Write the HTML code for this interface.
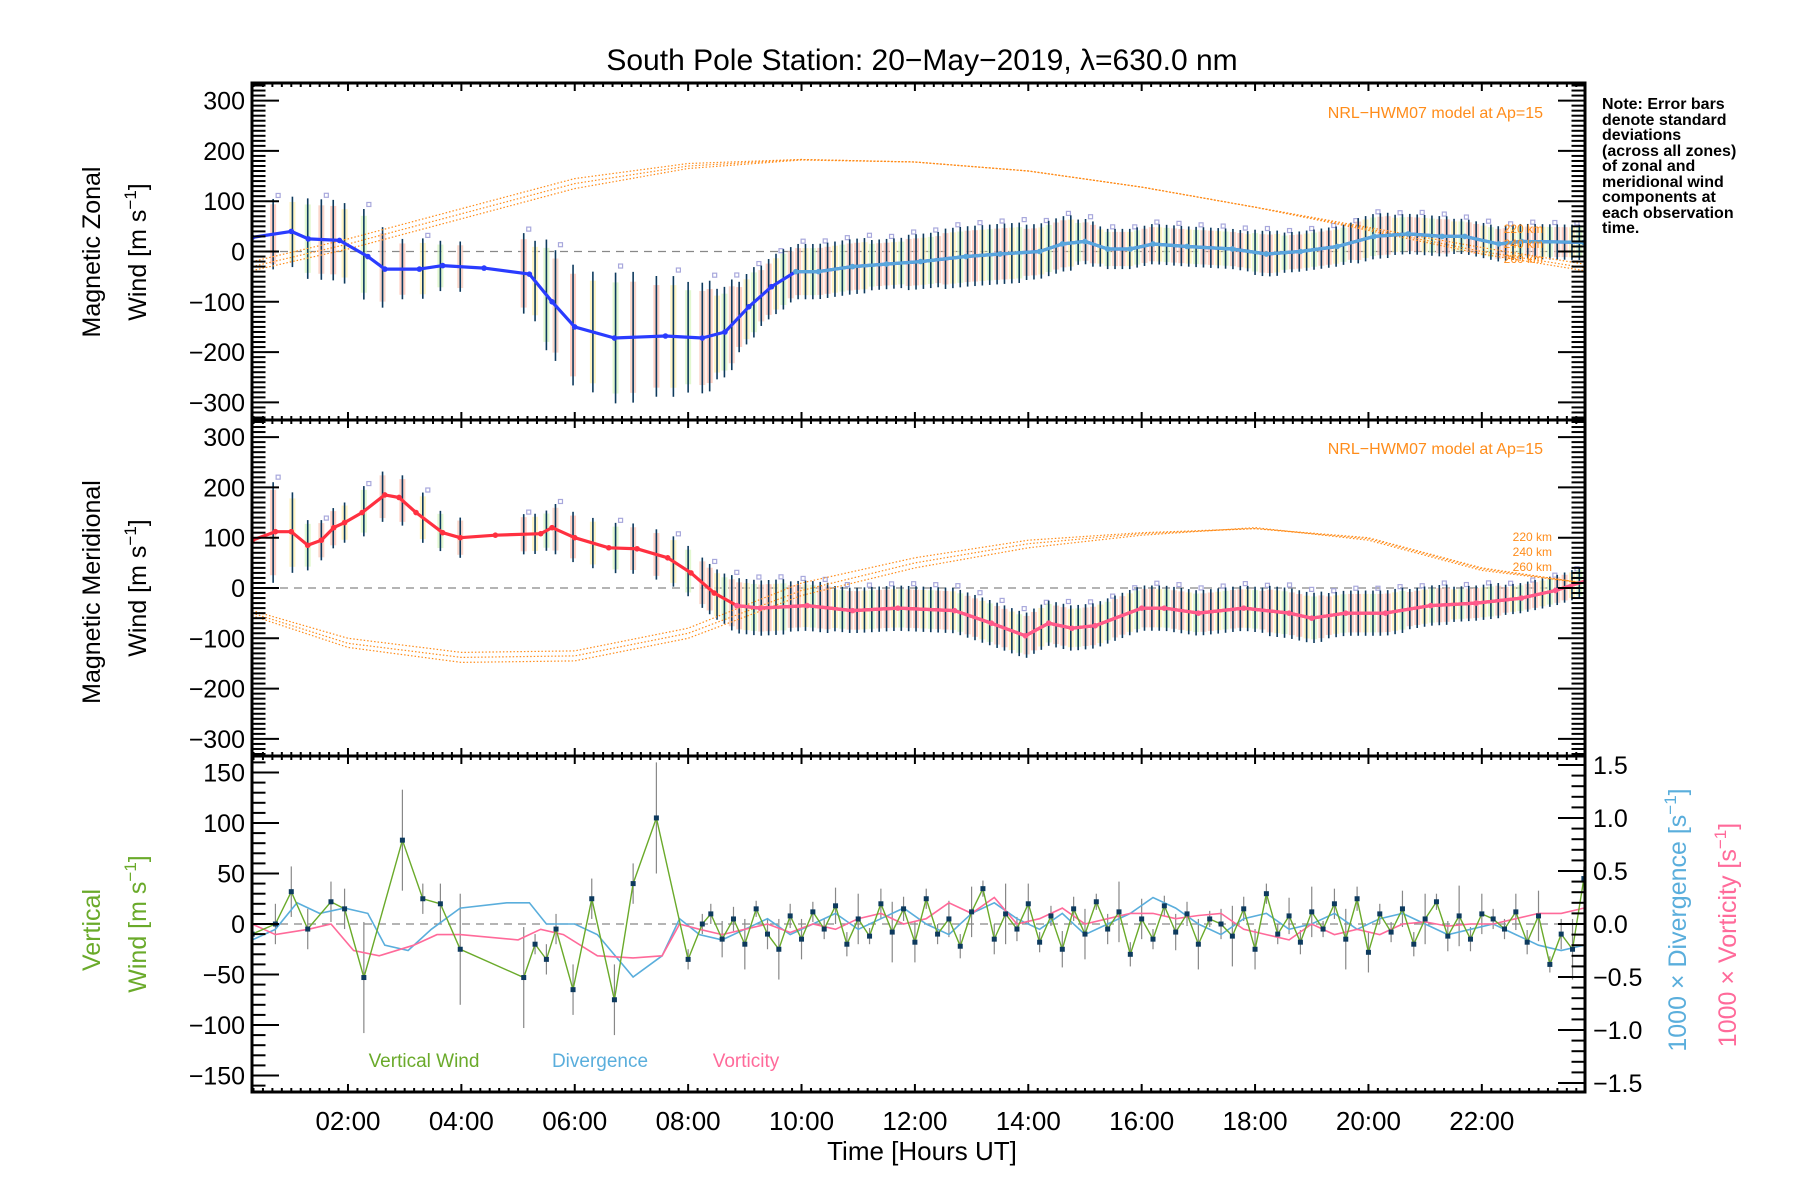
<!DOCTYPE html>
<html><head><meta charset="utf-8"><style>
html,body{margin:0;padding:0;background:#fff;}
svg{display:block;font-family:"Liberation Sans",sans-serif;}
</style></head><body>
<svg id="chart" width="1800" height="1200" viewBox="0 0 1800 1200" xmlns="http://www.w3.org/2000/svg">
<rect x="0" y="0" width="1800" height="1200" fill="#fff"/>
<text x="922" y="70" font-size="30" text-anchor="middle">South Pole Station: 20−May−2019, λ=630.0 nm</text>
<g id="layer"></g>
<text font-size="16" fill="#000" font-weight="bold">
<tspan x="1602" y="109">Note: Error bars</tspan><tspan x="1602" y="125">denote standard</tspan><tspan x="1602" y="140">deviations</tspan><tspan x="1602" y="156">(across all zones)</tspan><tspan x="1602" y="171">of zonal and</tspan><tspan x="1602" y="187">meridional wind</tspan><tspan x="1602" y="202">components at</tspan><tspan x="1602" y="218">each observation</tspan><tspan x="1602" y="233">time.</tspan></text>
<text x="1543" y="118" font-size="16" fill="#ff8c1a" text-anchor="end">NRL−HWM07 model at Ap=15</text>
<text x="1543" y="454" font-size="16" fill="#ff8c1a" text-anchor="end">NRL−HWM07 model at Ap=15</text>
<text font-size="12" fill="#ff8c1a" text-anchor="end"><tspan x="1552" y="541">220 km</tspan><tspan x="1552" y="556">240 km</tspan><tspan x="1552" y="571">260 km</tspan></text>
<text font-size="12" fill="#ff8c1a" text-anchor="end"><tspan x="1543" y="233">220 km</tspan><tspan x="1543" y="248">240 km</tspan><tspan x="1543" y="263">260 km</tspan></text>
<text font-size="25" text-anchor="middle" transform="translate(100,252) rotate(-90)">Magnetic  Zonal</text>
<text font-size="25" text-anchor="middle" transform="translate(146,252) rotate(-90)">Wind  [m  s<tspan dy="-10" font-size="17">−1</tspan><tspan dy="10">]</tspan></text>
<text font-size="25" text-anchor="middle" transform="translate(100,592) rotate(-90)">Magnetic  Meridional</text>
<text font-size="25" text-anchor="middle" transform="translate(146,588) rotate(-90)">Wind  [m  s<tspan dy="-10" font-size="17">−1</tspan><tspan dy="10">]</tspan></text>
<text font-size="25" fill="#6aaa2a" text-anchor="middle" transform="translate(100,930) rotate(-90)">Vertical</text>
<text font-size="25" fill="#6aaa2a" text-anchor="middle" transform="translate(146,924) rotate(-90)">Wind  [m  s<tspan dy="-10" font-size="17">−1</tspan><tspan dy="10">]</tspan></text>
<text font-size="25" fill="#5aaedc" text-anchor="middle" transform="translate(1686,920) rotate(-90)">1000 × Divergence [s<tspan dy="-10" font-size="17">−1</tspan><tspan dy="10">]</tspan></text>
<text font-size="25" fill="#ff6a9a" text-anchor="middle" transform="translate(1736,935) rotate(-90)">1000 × Vorticity [s<tspan dy="-10" font-size="17">−1</tspan><tspan dy="10">]</tspan></text>
<text x="424" y="1067" font-size="19" fill="#6aaa2a" text-anchor="middle">Vertical Wind</text>
<text x="600" y="1067" font-size="19" fill="#5aaedc" text-anchor="middle">Divergence</text>
<text x="746" y="1067" font-size="19" fill="#ff6a9a" text-anchor="middle">Vorticity</text>
<text x="922" y="1160" font-size="26" text-anchor="middle">Time [Hours UT]</text>
</svg>
<script>
// ---- data ----
const zonalTimes=[0.31,1.0,1.3,1.85,2.35,2.65,3.26,3.67,4.4,5.2,5.6,6.0,6.7,7.6,8.25,8.65,9.07,9.47,9.9,10.3,10.9,11.5,12.1,12.9,13.5,14.2,14.6,15.0,15.4,15.8,16.2,16.8,17.6,18.2,18.8,19.45,20.1,20.7,21.3,21.7,22.3,22.7,23.8];
const zonalWind=[28,40,25,22,-10,-35,-35,-28,-33,-45,-100,-150,-172,-168,-172,-160,-110,-70,-40,-40,-30,-25,-20,-10,-5,0,15,20,5,5,15,10,5,-5,0,10,30,35,30,30,15,20,18];
const zonalStd=[60,70,80,80,90,80,60,50,60,80,110,120,130,120,110,90,70,60,55,55,55,50,55,60,60,55,55,45,40,40,40,40,40,45,40,40,45,40,40,35,35,35,35];
const merTimes=[0.31,0.72,1.0,1.29,1.53,1.75,1.94,2.25,2.65,2.9,3.2,3.67,3.98,4.6,5.4,5.6,6.0,6.6,7.1,7.64,8.05,8.46,8.86,9.27,10.1,10.9,11.7,12.7,13.35,13.95,14.36,14.77,15.18,16.0,16.4,17.0,17.8,18.6,19.0,19.6,20.3,21.1,21.9,22.7,23.3,23.85];
const merWind=[95,112,112,85,95,120,130,150,185,180,150,110,100,105,108,120,100,80,78,60,30,-10,-35,-40,-35,-45,-40,-45,-70,-95,-70,-80,-75,-40,-40,-50,-40,-50,-60,-50,-50,-35,-30,-20,-5,15];
const merStd=[90,100,80,50,40,40,40,50,50,50,50,40,40,40,40,50,50,50,50,50,50,50,55,55,50,45,45,45,45,45,45,45,45,45,45,45,45,50,50,45,45,40,35,30,30,30];
const obsSparseTimes=[0.68,1.02,1.29,1.53,1.74,1.94,2.28,2.61,2.96,3.32,3.63,3.98,5.1,5.3,5.5,5.66,5.97,6.32,6.72,7.03,7.44,7.74,8.0,8.25];
const modelTimes=[0.31,2,4,6,8,10,12,14,16,18,20,22,23.8];
const hwmZonal220=[-20,25,85,145,175,183,178,160,128,88,48,8,-25];
const hwmZonal240=[-30,15,75,135,170,183,178,160,128,88,45,0,-32];
const hwmZonal260=[-38,5,65,125,165,182,178,160,128,88,42,-5,-38];
const hwmMer220=[-45,-100,-128,-125,-80,10,60,95,110,118,100,40,10];
const hwmMer240=[-50,-110,-138,-135,-90,-5,50,88,108,118,98,38,10];
const hwmMer260=[-55,-118,-148,-145,-100,-15,40,80,105,120,95,35,10];
const vertSparseTimes=[0.31,0.72,1.0,1.29,1.7,1.94,2.28,2.96,3.32,3.63,3.98,5.1,5.3,5.5,5.67,5.97,6.3,6.7,7.03,7.44,8.0,8.25];
const vertSparse=[-10,0,32,-5,22,15,-53,83,25,20,-25,-53,-20,-35,-5,-65,25,-75,40,105,-35,0];
const vertSparseStd=[15,20,25,20,20,20,55,50,15,20,55,50,10,15,15,25,20,35,20,55,10,10];
const vertDense=[10,-15,5,-20,15,-10,-25,8,-15,12,-5,18,-20,5,-12,20,-8,15,-18,25,-10,5,-22,12,35,-15,10,-5,20,-18,8,-25,15,-10,22,-5,12,-30,5,-15,18,-8,10,-20,5,0,-12,15,-25,30,-10,8,-18,12,-5,20,-15,25,-28,10,-8,15,-20,5,22,-12,8,-15,10,5,-5,12,-18,8,-40,-10,-25,45];
const vertDenseStd=[10,18,12,25,8,15,30,12,20,10];
const divSparseTimes=[0.31,0.72,1.1,1.5,1.94,2.35,2.65,3.06,3.47,3.98,4.8,5.2,5.5,6.0,6.4,7.03,7.54,7.85];
const divSparse=[-0.15,-0.05,0.2,0.1,0.15,0.1,-0.2,-0.25,-0.05,0.15,0.2,0.2,0.0,0.0,-0.1,-0.5,-0.3,0.05];
const divDense=[-0.1,-0.15,-0.05,0.05,-0.1,0.0,0.1,-0.05,0.05,0.15,0.0,-0.1,0.1,0.2,0.05,-0.05,0.1,-0.1,0.0,0.1,0.25,0.15,0.0,-0.1,0.05,0.1,-0.05,0.0,0.1,-0.05,0.05,0.1,0.0,-0.1,-0.05,0.0,-0.1,-0.2,-0.25,-0.2];
const vortSparseTimes=[0.31,0.72,1.3,1.7,2.1,2.55,3.16,3.57,3.98,5.0,5.4,5.8,6.4,7.03,7.54,7.85];
const vortSparse=[0.0,-0.1,-0.05,0.0,-0.25,-0.3,-0.2,-0.1,-0.1,-0.15,-0.05,-0.1,-0.3,-0.32,-0.3,0.0];
const vortDense=[-0.05,-0.1,-0.05,0.0,-0.08,0.0,-0.05,0.05,0.1,0.0,0.05,0.2,0.1,0.25,0.0,0.05,0.15,0.0,0.05,0.1,0.1,0.05,0.08,0.1,-0.05,-0.1,-0.15,0.0,-0.1,-0.05,-0.1,0.0,0.02,-0.02,0.0,0.0,0.05,0.1,0.1,0.15];
const xTickLabels=["02:00","04:00","06:00","08:00","10:00","12:00","14:00","16:00","18:00","20:00","22:00"];
const windTicks=[-300,-200,-100,0,100,200,300];
const vertTicks=[-150,-100,-50,0,50,100,150];
const rightTicks=[-1.5,-1.0,-0.5,0.0,0.5,1.0,1.5];

// ---- axes ----
const L=252,R=1585,T0=0.307,T1=23.82;
const P=[{top:83,bot:420},{top:420,bot:756},{top:756,bot:1092}];
const xs=t=>L+(t-T0)*(R-L)/(T1-T0);
const y1=v=>251.5-v*0.503;
const y2=v=>588-v*0.503;
const y3=v=>924-v*1.01;
const y3r=v=>924-v*106;
const NS="http://www.w3.org/2000/svg";
const layer=document.getElementById('layer');
function mk(tag,attrs,parent){const e=document.createElementNS(NS,tag);for(const k in attrs)e.setAttribute(k,attrs[k]);(parent||layer).appendChild(e);return e;}
function interp(ts,vs,t){if(t<=ts[0])return vs[0];for(let i=1;i<ts.length;i++){if(t<=ts[i]){const f=(t-ts[i-1])/(ts[i]-ts[i-1]);return vs[i-1]+f*(vs[i]-vs[i-1]);}}return vs[vs.length-1];}
function nearest(ts,vs,t){let b=0;for(let i=0;i<ts.length;i++)if(Math.abs(ts[i]-t)<Math.abs(ts[b]-t))b=i;return vs[b];}
function pts(ts,vs,yf){return ts.map((t,i)=>xs(t).toFixed(1)+','+yf(vs[i]).toFixed(1)).join(' ');}

const clipDefs=mk('defs',{});
P.forEach((p,i)=>{const c=mk('clipPath',{id:'clip'+i},clipDefs);mk('rect',{x:L,y:p.top,width:R-L,height:p.bot-p.top},c);});

const obsTimes=obsSparseTimes.slice();
for(let t=8.38;t<23.85;t+=0.13)obsTimes.push(t);

function windPanel(idx,yf,lt,lv,ls,m1,m2,m3,c1,c2,split,name){
  const g=mk('g',{'clip-path':'url(#clip'+idx+')'});
  
  
  mk('line',{x1:L,x2:R,y1:yf(0),y2:yf(0),stroke:'#888','stroke-width':1.3,'stroke-dasharray':'8,6'},g);
  const shades=['#ffc0b0','#fff0b0','#d8f5c0','#f8c8b8'];
  obsTimes.forEach((t,i)=>{
    const m=interp(lt,lv,t),s=nearest(lt,ls,t);
    const r=mk('rect',{x:xs(t)-3,y:yf(m+s*0.85),width:6,height:Math.abs(yf(m-s*0.85)-yf(m+s*0.85)),fill:shades[i%4],opacity:0.75},g);
    
    
    const b=mk('line',{x1:xs(t),x2:xs(t),y1:yf(m+s),y2:yf(m-s),stroke:'#0d3a5e','stroke-width':1.6},g);
    
    
    if(i%3===0){const q=mk('rect',{x:xs(t)+3,y:yf(m+s*1.1)-2,width:4,height:4,fill:'none',stroke:'#a8a8dc','stroke-width':1.2},g);
      
      }
  });
  [m1,m2,m3].forEach((m,k)=>{
    const pl=mk('polyline',{points:pts(modelTimes,m,yf),fill:'none',stroke:'#ff8c1a','stroke-width':1.2,'stroke-dasharray':'1.5,2'},g);
    
    
  });
  const ln=mk('polyline',{points:pts(lt,lv,yf),fill:'none',stroke:c1,'stroke-width':3.2,'stroke-linejoin':'round'},g);
  
  
  const st=[],sv=[];lt.forEach((t,i)=>{if(t>=split){st.push(t);sv.push(lv[i]);}});
  const ln2=mk('polyline',{points:pts(st,sv,yf),fill:'none',stroke:c2,'stroke-width':3.2,'stroke-linejoin':'round'},g);
  
  
  lt.forEach((t,i)=>{const d=mk('circle',{cx:xs(t),cy:yf(lv[i]),r:2.8,fill:t>=split?c2:c1},g);
    
    });
}
windPanel(0,y1,zonalTimes,zonalWind,zonalStd,hwmZonal220,hwmZonal240,hwmZonal260,'#2a3cff','#5aa6dc',9.8,'zonal');
windPanel(1,y2,merTimes,merWind,merStd,hwmMer220,hwmMer240,hwmMer260,'#ff3040','#ff5a8a',8.6,'meridional');

(function(){
  const g=mk('g',{'clip-path':'url(#clip2)'});
  
  
  mk('line',{x1:L,x2:R,y1:y3(0),y2:y3(0),stroke:'#888','stroke-width':1.3,'stroke-dasharray':'8,6'},g);
  const vt=vertSparseTimes.slice(),vv=vertSparse.slice(),vs=vertSparseStd.slice();
  vertDense.forEach((v,i)=>{vt.push(8.4+i*0.2);vv.push(v);vs.push(vertDenseStd[i%vertDenseStd.length]);});
  vt.forEach((t,i)=>{const e=mk('line',{x1:xs(t),x2:xs(t),y1:y3(vv[i]+vs[i]),y2:y3(vv[i]-vs[i]),stroke:'#888','stroke-width':1.2},g);
    
    });
  const dt=divSparseTimes.slice(),dv=divSparse.slice();
  divDense.forEach((v,i)=>{dt.push(8.2+i*0.4);dv.push(v);});
  const rt=vortSparseTimes.slice(),rv=vortSparse.slice();
  vortDense.forEach((v,i)=>{rt.push(8.2+i*0.4);rv.push(v);});
  const dl=mk('polyline',{points:pts(dt,dv,y3r),fill:'none',stroke:'#5aaedc','stroke-width':1.6},g);
  
  
  const rl=mk('polyline',{points:pts(rt,rv,y3r),fill:'none',stroke:'#ff6a9a','stroke-width':1.6},g);
  
  
  const vl=mk('polyline',{points:pts(vt,vv,y3),fill:'none',stroke:'#6aaa2a','stroke-width':1.4},g);
  
  
  vt.forEach((t,i)=>{const d=mk('rect',{x:xs(t)-2.5,y:y3(vv[i])-2.5,width:5,height:5,fill:'#0d3a5e'},g);
    
    });
})();

const ax=mk('g',{stroke:'#000','stroke-width':2});


P.forEach(p=>{
  for(let m=Math.ceil(T0*6);m<=T1*6;m++){const t=m/6,x=xs(t),maj=(m%12===0);const h=maj?8:4;
    mk('line',{x1:x,x2:x,y1:p.bot,y2:p.bot-h},ax);mk('line',{x1:x,x2:x,y1:p.top,y2:p.top+h},ax);}
});
function yTicks(p,yf,lo,hi,minor,major,side,len){
  const x0=side==='l'?L:R,dir=side==='l'?1:-1;
  for(let v=Math.ceil(lo/minor)*minor;v<=hi+1e-9;v+=minor){const y=yf(v);if(y<p.top+1||y>p.bot-1)continue;
    const isM=Math.abs(v/major-Math.round(v/major))<1e-6;const l=isM?len:len/2;
    mk('line',{x1:x0,x2:x0+dir*l,y1:y,y2:y},ax);}
}
yTicks(P[0],y1,-340,340,10,100,'l',27);yTicks(P[0],y1,-340,340,10,100,'r',27);
yTicks(P[1],y2,-340,340,10,100,'l',27);yTicks(P[1],y2,-340,340,10,100,'r',27);
yTicks(P[2],y3,-170,170,10,50,'l',27);yTicks(P[2],y3r,-1.6,1.6,0.1,0.5,'r',27);
P.forEach(p=>{const f=mk('rect',{x:L,y:p.top,width:R-L,height:p.bot-p.top,fill:'none',stroke:'#000','stroke-width':3});
  
  });

const lab=mk('g',{'font-size':25,fill:'#000'});
function fmt(v){return (v<0?'−':'')+Math.abs(v);}
windTicks.forEach(v=>{[y1,y2].forEach((yf,k)=>{const t=mk('text',{x:245,y:yf(v)+9,'text-anchor':'end'},lab);t.textContent=fmt(v);
  
  });});
vertTicks.forEach(v=>{const t=mk('text',{x:245,y:y3(v)+9,'text-anchor':'end'},lab);t.textContent=fmt(v);
  
  });
rightTicks.forEach(v=>{const t=mk('text',{x:1593,y:y3r(v)+9,'text-anchor':'start'},lab);t.textContent=(v<0?'−':'')+Math.abs(v).toFixed(1);
  
  });
xTickLabels.forEach((s,i)=>{const t=mk('text',{x:xs(2+i*2),y:1130,'text-anchor':'middle','font-size':26},lab);t.textContent=s;
  
  });
</script>
</body></html>
